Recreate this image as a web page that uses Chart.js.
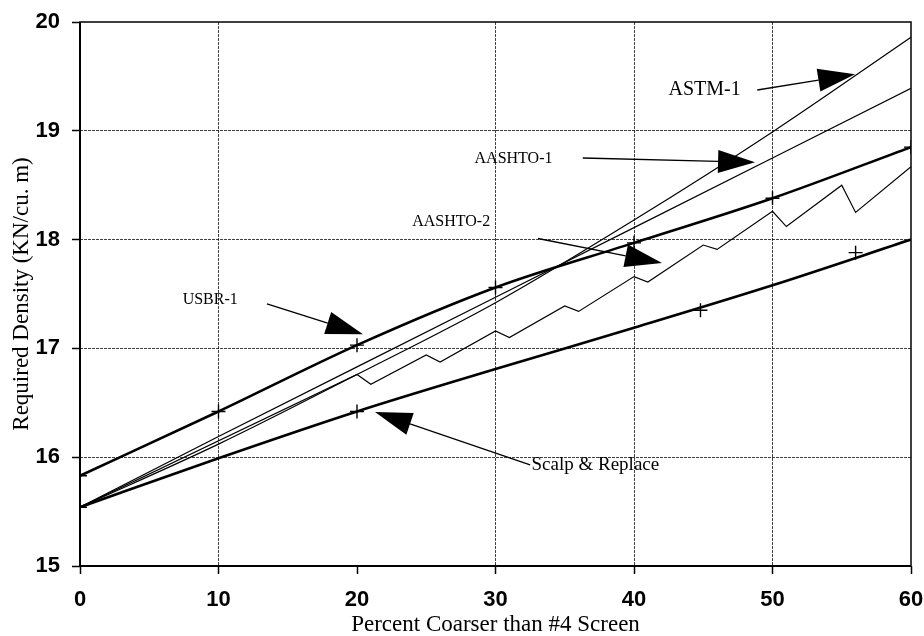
<!DOCTYPE html>
<html>
<head>
<meta charset="utf-8">
<script src="https://cdn.jsdelivr.net/npm/chart.js@4"></script>
<style>
  html, body { margin: 0; padding: 0; background: #fff; }
</style>
</head>
<body>
<canvas id="grafica" width="924" height="636"></canvas>
<script>
// Eje X: porcentaje más grueso que el tamiz #4
var pctX = [0, 10, 20, 30, 40, 50, 60];

// Curvas principales (KN/m3)
var usbr1        = [15.83, 16.42, 17.03, 17.56, 17.97, 18.38, 18.85];
var scalpReplace = [15.54, 15.99, 16.42, 16.81, 17.19, 17.58, 18.00];
var astm1        = [15.54, 16.12, 16.76, 17.42, 18.18, 18.99, 19.86];
var aashto1      = [15.54, 16.19, 16.83, 17.47, 18.11, 18.75, 19.39];

// AASHTO-2 tiene forma de sierra
var aashto2X = [0, 20, 21, 25, 26, 30, 31, 35, 36, 40, 41, 45, 46, 50, 51, 55, 56, 60];
var aashto2Y = [15.54, 16.76, 16.67, 16.94, 16.875, 17.16, 17.10, 17.39, 17.34,
                17.66, 17.61, 17.95, 17.91, 18.26, 18.12, 18.50, 18.25, 18.67];

// Marcas "+" sobre la curva Scalp & Replace
var scalpMarcasX = [0, 20, 44.8, 56];
var scalpMarcasY = [15.54, 16.42, 17.35, 17.88];

// Etiquetas con flecha (texto, posición del texto, inicio y punta de la flecha)
var etiquetas = [
  { texto: 'ASTM-1',          x: 45.1, y: 19.375, size: 20, alin: 'center', desde: [48.9, 19.375], hasta: [55.96, 19.52] },
  { texto: 'AASHTO-1',        x: 31.3, y: 18.74,  size: 16, alin: 'center', desde: [36.3, 18.75],  hasta: [48.74, 18.71] },
  { texto: 'AASHTO-2',        x: 26.8, y: 18.16,  size: 16, alin: 'center', desde: [33.07, 18.01], hasta: [42.02, 17.785] },
  { texto: 'USBR-1',          x: 9.4,  y: 17.45,  size: 16, alin: 'center', desde: [13.5, 17.41],  hasta: [20.43, 17.13] },
  { texto: 'Scalp & Replace', x: 32.6, y: 15.93,  size: 19, alin: 'left',   desde: [32.5, 15.93],  hasta: [21.3, 16.415] }
];

function puntos(xs, ys) {
  return xs.map(function(x, i) { return { x: x, y: ys[i] }; });
}

var sans = "'Liberation Sans', Arial, sans-serif";
var serif = "'Liberation Serif', 'Times New Roman', serif";

// Marco negro del área de la gráfica
var marco = {
  id: 'marco',
  beforeDatasetsDraw: function(chart) {
    var a = chart.chartArea, c = chart.ctx;
    c.save();
    c.strokeStyle = '#000';
    c.lineWidth = 1.5;
    c.strokeRect(a.left, a.top, a.right - a.left, a.bottom - a.top);
    c.lineWidth = 2;
    c.beginPath();
    c.moveTo(a.left, a.top);
    c.lineTo(a.left, a.bottom);
    c.lineTo(a.right, a.bottom);
    c.stroke();
    c.restore();
  }
};

// Textos y flechas con punta rellena
var flechas = {
  id: 'flechas',
  afterDatasetsDraw: function(chart) {
    var c = chart.ctx, sx = chart.scales.x, sy = chart.scales.y;
    c.save();
    etiquetas.forEach(function(e) {
      var x0 = sx.getPixelForValue(e.desde[0]), y0 = sy.getPixelForValue(e.desde[1]);
      var x1 = sx.getPixelForValue(e.hasta[0]), y1 = sy.getPixelForValue(e.hasta[1]);
      var dx = x1 - x0, dy = y1 - y0, d = Math.sqrt(dx * dx + dy * dy);
      var ux = dx / d, uy = dy / d;
      var bx = x1 - ux * 37, by = y1 - uy * 37;
      c.strokeStyle = '#000';
      c.lineWidth = 1.3;
      c.beginPath();
      c.moveTo(x0, y0);
      c.lineTo(bx, by);
      c.stroke();
      c.fillStyle = '#000';
      c.beginPath();
      c.moveTo(x1, y1);
      c.lineTo(bx - uy * 11.5, by + ux * 11.5);
      c.lineTo(bx + uy * 11.5, by - ux * 11.5);
      c.closePath();
      c.fill();

      c.font = e.size + 'px ' + serif;
      c.textAlign = e.alin;
      c.textBaseline = 'middle';
      c.fillText(e.texto, sx.getPixelForValue(e.x), sy.getPixelForValue(e.y));
    });
    c.restore();
  }
};

function colorRejilla(ctx) {
  var v = ctx.tick ? ctx.tick.value : null;
  if (v === 0 || v === 60 || v === 15 || v === 20) return 'rgba(0,0,0,0)';
  return 'rgba(0,0,0,0.75)';
}

var ctx = document.getElementById('grafica').getContext('2d');
var grafica = new Chart(ctx, {
  type: 'line',
  data: {
    datasets: [
      { label: 'ASTM-1', data: puntos(pctX, astm1), borderColor: '#000', borderWidth: 1.2,
        pointRadius: 0, cubicInterpolationMode: 'monotone', fill: false },
      { label: 'AASHTO-1', data: puntos(pctX, aashto1), borderColor: '#000', borderWidth: 1.2,
        pointRadius: 0, tension: 0, fill: false },
      { label: 'AASHTO-2', data: puntos(aashto2X, aashto2Y), borderColor: '#000', borderWidth: 1.2,
        pointRadius: 0, tension: 0, fill: false },
      { label: 'USBR-1', data: puntos(pctX, usbr1), borderColor: '#000', borderWidth: 2.6,
        pointRadius: 7, pointStyle: 'cross', pointBorderWidth: 1.4, pointBorderColor: '#000',
        cubicInterpolationMode: 'monotone', fill: false },
      { label: 'Scalp & Replace', data: puntos(pctX, scalpReplace), borderColor: '#000', borderWidth: 2.6,
        pointRadius: 0, cubicInterpolationMode: 'monotone', fill: false },
      { label: 'marcas', data: puntos(scalpMarcasX, scalpMarcasY), showLine: false,
        pointRadius: 7, pointStyle: 'cross', pointBorderWidth: 1.4, pointBorderColor: '#000' }
    ]
  },
  options: {
    responsive: false,
    animation: false,
    devicePixelRatio: 1,
    layout: { padding: 0 },
    plugins: { legend: { display: false }, tooltip: { enabled: false } },
    scales: {
      x: {
        type: 'linear', min: 0, max: 60,
        afterFit: function(s) { s.height = 70; s.paddingLeft = 0; s.paddingRight = 13; },
        ticks: { stepSize: 10, color: '#000', padding: 13,
                 font: { family: sans, size: 22, weight: 'bold' } },
        grid: { color: colorRejilla, lineWidth: 1, tickLength: 8, tickColor: '#000', tickWidth: 1.5 },
        border: { display: false, dash: [3, 1] },
        title: { display: true, text: 'Percent Coarser than #4 Screen', color: '#000',
                 font: { family: serif, size: 23, lineHeight: 1 }, padding: { top: 0, bottom: 0 } }
      },
      y: {
        type: 'linear', min: 15, max: 20,
        afterFit: function(s) { s.width = 80; s.paddingTop = 22; s.paddingBottom = 0; },
        ticks: { stepSize: 1, color: '#000', padding: 12,
                 font: { family: sans, size: 22, weight: 'bold' } },
        grid: { color: colorRejilla, lineWidth: 1, tickLength: 8, tickColor: '#000', tickWidth: 1.5 },
        border: { display: false, dash: [3, 1] },
        title: { display: true, text: 'Required Density (KN/cu. m)', color: '#000',
                 font: { family: serif, size: 23, lineHeight: 1.2 }, padding: { top: 8, bottom: 0 } }
      }
    }
  },
  plugins: [marco, flechas]
});
</script>
</body>
</html>
